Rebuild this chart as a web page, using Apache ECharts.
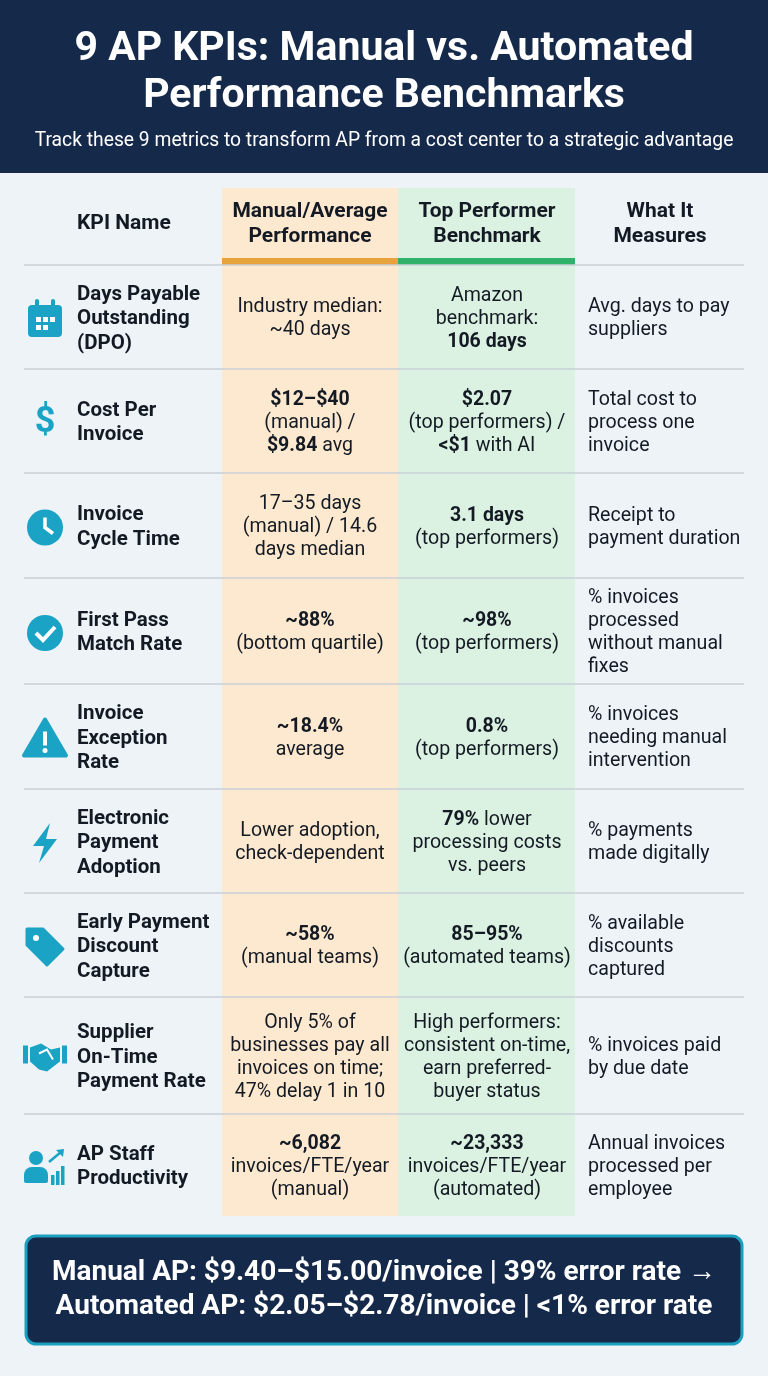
<!DOCTYPE html>
<html><head><meta charset="utf-8">
<script src="https://cdn.jsdelivr.net/npm/echarts@6/dist/echarts.min.js"></script>
<style>html,body{margin:0;padding:0;background:#eef3f8}#c{width:768px;height:1376px}</style>
</head><body><div id="c"></div>
<script>
const title = ["9 AP KPIs: Manual vs. Automated", "Performance Benchmarks"];
const subtitle = "Track these 9 metrics to transform AP from a cost center to a strategic advantage";
const headers = [["KPI Name"], ["Manual/Average", "Performance"], ["Top Performer", "Benchmark"], ["What It", "Measures"]];
const kpiNames = [
  ["Days Payable","Outstanding","(DPO)"],["Cost Per","Invoice"],["Invoice","Cycle Time"],["First Pass","Match Rate"],
  ["Invoice","Exception","Rate"],["Electronic","Payment","Adoption"],["Early Payment","Discount","Capture"],
  ["Supplier","On-Time","Payment Rate"],["AP Staff","Productivity"]];
const manualPerf = [
  ["Industry median:","~40 days"],["{b|$12–$40}","(manual) /","{b|$9.84} avg"],["17–35 days","(manual) / 14.6","days median"],
  ["{b|~88%}","(bottom quartile)"],["{b|~18.4%}","average"],["Lower adoption,","check-dependent"],
  ["{b|~58%}","(manual teams)"],["Only 5% of","businesses pay all","invoices on time;","47% delay 1 in 10"],
  ["{b|~6,082}","invoices/FTE/year","(manual)"]];
const topPerf = [
  ["Amazon","benchmark:","{b|106 days}"],["{b|$2.07}","(top performers) /","{b|<$1} with AI"],["{b|3.1 days}","(top performers)"],
  ["{b|~98%}","(top performers)"],["{b|0.8%}","(top performers)"],["{b|79%} lower","processing costs","vs. peers"],
  ["{b|85–95%}","(automated teams)"],["High performers:","consistent on-time,","earn preferred-","buyer status"],
  ["{b|~23,333}","invoices/FTE/year","(automated)"]];
const measures = [
  ["Avg. days to pay","suppliers"],["Total cost to","process one","invoice"],["Receipt to","payment duration"],
  ["% invoices","processed","without manual","fixes"],["% invoices","needing manual","intervention"],["% payments","made digitally"],
  ["% available","discounts","captured"],["% invoices paid","by due date"],["Annual invoices","processed per","employee"]];
const iconKinds = ["calendar","dollar","clock","check","warn","bolt","tag","hands","staff"];
const footer = ["Manual AP: $9.40–$15.00/invoice | 39% error rate →","Automated AP: $2.05–$2.78/invoice | <1% error rate"];

const rowEdges = [265,369,473,578,684,789,893,997,1114,1216];
const F = "Roboto, 'Noto Sans', sans-serif";
const teal = "#1aa3c4", ink = "#141a24";
const g = [];
g.push({type:'rect',shape:{x:0,y:0,width:768,height:173},style:{fill:'#15294b'}});
title.forEach((t,i)=>g.push({type:'text',x:384,y:50+i*47,style:{text:t,fill:'#fff',font:`bold 41px ${F}`,align:'center',verticalAlign:'middle'}}));
g.push({type:'text',x:384,y:141,style:{text:subtitle,fill:'#fff',font:`19.3px ${F}`,align:'center',verticalAlign:'middle'}});
g.push({type:'rect',shape:{x:222,y:188,width:177,height:1028},style:{fill:'#fde9cf'}});
g.push({type:'rect',shape:{x:398,y:188,width:177,height:1028},style:{fill:'#dbf1e1'}});
g.push({type:'rect',shape:{x:222,y:258,width:177,height:7},style:{fill:'#e8a43c'}});
g.push({type:'rect',shape:{x:398,y:258,width:177,height:7},style:{fill:'#2fb36a'}});
rowEdges.slice(0,9).forEach(y=>g.push({type:'line',shape:{x1:24,y1:y,x2:744,y2:y},style:{stroke:'#c9cfd6',lineWidth:1.3}}));
const hx=[[77,'left'],[310,'center'],[487,'center'],[660,'center']];
headers.forEach((h,i)=>g.push({type:'text',x:hx[i][0],y:224,style:{text:h.join('\n'),fill:ink,font:`bold 21px ${F}`,lineHeight:25,align:hx[i][1],verticalAlign:'middle'}}));
const rich={b:{font:`bold 19.5px ${F}`,fill:ink,lineHeight:23}};
function cell(lines,x,y,align,bold){
  g.push({type:'text',x,y,style:{text:lines.join('\n'),fill:ink,font:`${bold?'bold 20.5px':'19.6px'} ${F}`,lineHeight:bold?24.5:23,align,verticalAlign:'middle',rich}});
}
function icon(kind,cx,cy){
  const s={fill:teal};
  const w={fill:'#fff'};
  switch(kind){
    case 'calendar':
      g.push({type:'rect',shape:{x:cx-17,y:cy-14,width:34,height:32,r:4},style:s});
      g.push({type:'rect',shape:{x:cx-10,y:cy-20,width:4,height:9,r:2},style:s});
      g.push({type:'rect',shape:{x:cx+6,y:cy-20,width:4,height:9,r:2},style:s});
      [[-9,-2],[-2,-2],[5,-2],[-9,6],[-2,6]].forEach(p=>g.push({type:'rect',shape:{x:cx+p[0],y:cy+p[1],width:5,height:5},style:w}));
      break;
    case 'dollar':
      g.push({type:'text',x:cx,y:cy,style:{text:'$',fill:teal,font:`bold 36px ${F}`,align:'center',verticalAlign:'middle'}});break;
    case 'clock':
      g.push({type:'circle',shape:{cx,cy,r:18},style:s});
      g.push({type:'polyline',shape:{points:[[cx,cy-10],[cx,cy],[cx+8,cy+6]]},style:{stroke:'#fff',lineWidth:3.5,fill:null}});break;
    case 'check':
      g.push({type:'circle',shape:{cx,cy,r:18},style:s});
      g.push({type:'polyline',shape:{points:[[cx-9,cy],[cx-2,cy+7],[cx+10,cy-6]]},style:{stroke:'#fff',lineWidth:4,fill:null}});break;
    case 'warn':
      g.push({type:'polygon',shape:{points:[[cx,cy-19],[cx+21,cy+17],[cx-21,cy+17]]},style:{fill:teal,lineJoin:'round',stroke:teal,lineWidth:4}});
      g.push({type:'rect',shape:{x:cx-2,y:cy-7,width:4,height:14},style:w});
      g.push({type:'circle',shape:{cx,cy:cy+12,r:2.5},style:w});break;
    case 'bolt':
      g.push({type:'polygon',shape:{points:[[cx+5,cy-20],[cx-12,cy+3],[cx-1,cy+3],[cx-6,cy+20],[cx+12,cy-4],[cx+1,cy-4]]},style:s});break;
    case 'tag':
      g.push({type:'polygon',shape:{points:[[cx-18,cy-18],[cx-2,cy-18],[cx+18,cy+2],[cx+2,cy+18],[cx-18,cy-2]]},style:{fill:teal,stroke:teal,lineWidth:3,lineJoin:'round'}});
      g.push({type:'circle',shape:{cx:cx-9,cy:cy-9,r:3},style:w});break;
    case 'hands':
      g.push({type:'rect',shape:{x:cx-22,y:cy-12,width:5,height:18},style:s});
      g.push({type:'rect',shape:{x:cx+17,y:cy-12,width:5,height:18},style:s});
      g.push({type:'polygon',shape:{points:[[cx-15,cy-10],[cx-4,cy-14],[cx+6,cy-8],[cx+15,cy-10],[cx+15,cy+4],[cx+2,cy+14],[cx-6,cy+12],[cx-15,cy+4]]},style:s});
      g.push({type:'polyline',shape:{points:[[cx-6,cy-4],[cx+2,cy-8],[cx+8,cy+2]]},style:{stroke:'#fff',lineWidth:2,fill:null}});break;
    case 'staff':
      g.push({type:'circle',shape:{cx:cx-9,cy:cy-9,r:7},style:s});
      g.push({type:'rect',shape:{x:cx-21,y:cy,width:24,height:16,r:[8,8,2,2]},style:s});
      [[6,6,4],[11,2,8],[16,-3,13]].forEach(b=>g.push({type:'rect',shape:{x:cx+b[0],y:cy+b[1]+2,width:3.5,height:b[2]+6},style:s}));
      g.push({type:'polyline',shape:{points:[[cx+4,cy-5],[cx+16,cy-15]]},style:{stroke:teal,lineWidth:2.5}});
      g.push({type:'polygon',shape:{points:[[cx+19,cy-18],[cx+11,cy-17],[cx+18,cy-10]]},style:s});break;
  }
}
for(let i=0;i<kpiNames.length;i++){
  const cy=(rowEdges[i]+rowEdges[i+1])/2 + 2;
  icon(iconKinds[i],45,cy);
  cell(kpiNames[i],77,cy,'left',true);
  cell(manualPerf[i],310,cy,'center');
  cell(topPerf[i],487,cy,'center');
  cell(measures[i],588,cy,'left');
}
g.push({type:'rect',shape:{x:26,y:1236,width:716,height:108,r:10},style:{fill:'#15294b',stroke:'#1a9fbd',lineWidth:3}});
g.push({type:'text',x:384,y:1290,style:{text:footer.join('\n'),fill:'#fff',font:`bold 28px ${F}`,lineHeight:34,align:'center',verticalAlign:'middle'}});
const chart=echarts.init(document.getElementById('c'));
chart.setOption({backgroundColor:'#eef3f8',graphic:{elements:g}});
</script></body></html>
